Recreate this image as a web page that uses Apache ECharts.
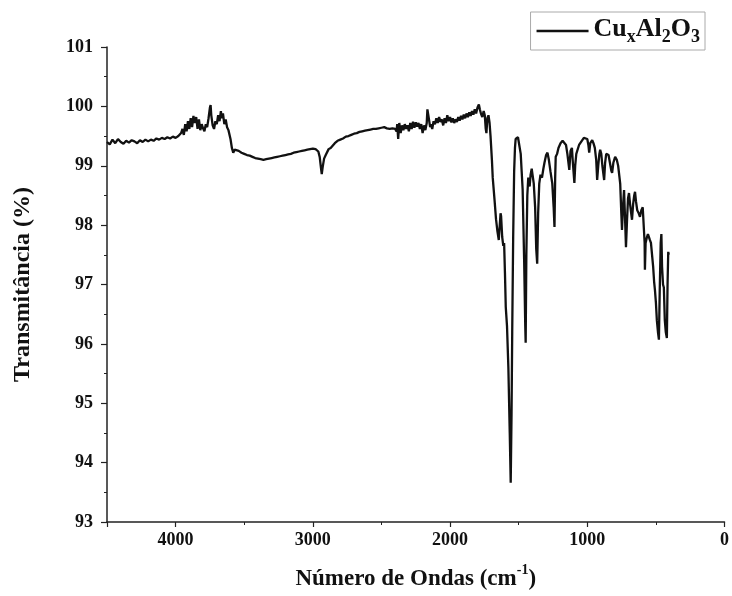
<!DOCTYPE html>
<html>
<head>
<meta charset="utf-8">
<script src="https://cdn.jsdelivr.net/npm/echarts@6/dist/echarts.min.js"></script>
<style>html,body{margin:0;padding:0;background:#fff;}#c{width:732px;height:596px;}</style>
</head>
<body>
<div id="c"></div>
<script>
// Wavenumber (cm^-1) and transmittance (%)
const wavenumber = [
4500,4480,4460,4440,4420,4400,4380,4360,4340,4320,4300,4280,4260,4240,4220,4200,4180,4160,4140,4120,4100,4080,4060,4040,4020,4000,3980,
3960,3950,3940,3930,3920,3910,3900,3890,3880,3870,3862,3850,3840,3830,3820,3810,3800,3790,3780,3770,3760,3750,3745,3740,3730,3720,3710,3700,3690,3680,3670,3665,3655,3645,3635,3625,3615,3600,3590,3580,3570,3560,
3540,3520,3500,3480,3460,3440,3420,3400,3380,3360,3340,3320,3300,3280,3260,3240,3220,3200,3180,3160,3140,3120,3100,3080,3060,3040,3020,3000,2980,2960,2950,2940,2935,2928,2918,2906,2895,2885,2870,2860,2840,2820,2800,2780,2760,2740,2720,2700,2680,2660,2640,2620,2600,2580,2560,2540,2520,2500,2480,2460,2440,2420,2400,2390,
2385,2378,2370,2360,2350,2340,2330,2320,2310,2300,2290,2280,2270,2260,2250,2240,2230,2220,2210,2200,2190,2180,2170,2165,2160,2155,2145,2138,2130,2120,2110,2100,2090,2080,2070,2060,2050,2040,2030,2020,2010,2000,1990,1980,1970,1960,1950,1940,1930,1920,1910,1900,1890,1880,1870,1860,1850,1840,1830,1820,1810,1800,1790,1783,1775,1765,1755,1747,1740,1735,1728,1720,1712,1705,1695,1689,
1675,1665,1655,1645,1638,1632,1628,1620,1612,1606,1600,1594,1585,1575,1565,1558,1552,1547,1540,1533,1527,1522,1515,1505,1493,1485,1478,1471,1460,1452,1449,1444,1437,1430,1420,1413,1405,1399,1390,1380,1372,1365,1358,1350,1341,1330,1320,1312,1300,1290,1280,1268,1255,1245,1239,1234,1230,1220,1210,1195,1180,
1167,1155,1145,1131,1122,1112,1105,1094,1088,1080,1073,1060,1040,1025,1015,1000,992,986,978,964,955,945,935,928,920,912,906,898,890,877,870,862,855,845,835,825,819,810,797,785,775,768,760,752,747,740,732,726,718,710,703,696,688,680,674,666,658,652,645,636,625,616,606,596,587,582,580,575,565,558,551,544,536,529,520,513,507,500,493,485,478,472,465,460,455,448,442,435,428,420,415,410,406
];
const transmittance = [
99.40,99.36,99.44,99.38,99.45,99.40,99.37,99.42,99.39,99.43,99.41,99.38,99.43,99.40,99.44,99.41,99.44,99.42,99.46,99.44,99.47,99.45,99.48,99.46,99.49,99.47,99.50,
99.55,99.62,99.52,99.70,99.58,99.75,99.62,99.80,99.65,99.84,99.72,99.82,99.62,99.78,99.60,99.70,99.63,99.58,99.70,99.65,99.80,99.98,100.02,99.85,99.68,99.62,99.75,99.70,99.85,99.75,99.92,99.80,99.88,99.70,99.78,99.65,99.60,99.45,99.30,99.22,99.27,99.24,
99.25,99.22,99.20,99.18,99.17,99.15,99.13,99.12,99.11,99.10,99.11,99.12,99.13,99.14,99.15,99.16,99.17,99.18,99.19,99.20,99.22,99.23,99.24,99.25,99.26,99.27,99.28,99.29,99.28,99.24,99.15,98.95,98.86,98.98,99.12,99.18,99.20,99.28,99.30,99.33,99.38,99.42,99.44,99.46,99.49,99.50,99.52,99.54,99.55,99.57,99.58,99.59,99.60,99.61,99.62,99.62,99.63,99.64,99.65,99.63,99.62,99.63,99.62,99.58,
99.70,99.45,99.72,99.55,99.68,99.60,99.70,99.62,99.68,99.58,99.72,99.62,99.74,99.64,99.73,99.66,99.72,99.62,99.70,99.55,99.68,99.60,99.72,99.95,99.98,99.80,99.65,99.70,99.62,99.75,99.70,99.80,99.72,99.82,99.74,99.78,99.68,99.80,99.72,99.85,99.75,99.82,99.73,99.80,99.72,99.78,99.74,99.82,99.76,99.84,99.78,99.86,99.80,99.88,99.82,99.90,99.84,99.92,99.86,99.95,99.88,99.98,100.03,99.95,99.88,99.82,99.92,99.85,99.62,99.55,99.80,99.85,99.72,99.50,99.10,98.80,
98.40,98.10,97.90,97.75,97.72,98.20,98.15,97.80,97.65,97.70,97.20,96.62,96.30,95.60,94.50,93.66,94.80,96.20,97.80,98.90,99.30,99.45,99.42,99.48,99.45,99.20,98.90,98.60,97.40,96.30,96.02,97.50,98.50,98.80,98.65,98.85,98.95,98.85,98.70,98.30,97.60,97.35,98.20,98.70,98.85,98.80,98.95,99.05,99.18,99.22,99.10,98.90,98.70,98.30,97.97,98.80,99.15,99.20,99.30,99.38,99.42,
99.45,99.35,99.20,98.93,99.25,99.30,99.05,98.71,99.00,99.20,99.22,99.35,99.42,99.47,99.48,99.45,99.35,99.22,99.38,99.43,99.38,99.30,99.10,98.76,99.00,99.20,99.27,99.20,99.00,98.76,99.05,99.20,99.23,99.18,99.05,98.92,98.88,99.05,99.15,99.10,99.00,98.98,98.70,98.20,97.92,98.30,98.59,98.20,97.63,98.10,98.45,98.54,98.35,98.20,98.09,98.35,98.50,98.56,98.40,98.25,98.20,98.14,98.25,98.30,98.31,97.70,97.25,97.70,97.80,97.85,97.87,97.75,97.70,97.70,97.30,97.05,96.91,96.70,96.40,96.20,96.07,96.90,97.70,97.85,97.30,97.00,96.95,96.40,96.20,96.10,97.00,97.55,97.50
];
const xTicks = [0, 1000, 2000, 3000, 4000];
const yTicks = [93, 94, 95, 96, 97, 98, 99, 100, 101];
const seriesName = 'CuxAl2O3';

const points = wavenumber.map((w, i) => [w, transmittance[i]]);
const FONT = 'Liberation Serif';

const chart = echarts.init(document.getElementById('c'), null, {renderer: 'canvas'});
chart.setOption({
  backgroundColor: '#fff',
  animation: false,
  grid: {left: 107, right: 4, top: 47, bottom: 74, containLabel: false},
  legend: {
    right: 27, top: 12,
    icon: 'rect',
    itemWidth: 52, itemHeight: 2.5, itemGap: 4,
    padding: [4, 5, 4, 6],
    borderColor: '#aaa', borderWidth: 1,
    data: [seriesName],
    formatter: () => '{a|Cu}{s|x}{a|Al}{s|2}{a|O}{s|3}',
    textStyle: {
      fontFamily: FONT, fontWeight: 'bold', color: '#111', padding: [0, 0, 0, 0],
      rich: {
        a: {fontFamily: FONT, fontWeight: 'bold', fontSize: 26, color: '#111', lineHeight: 30, verticalAlign: 'top'},
        s: {fontFamily: FONT, fontWeight: 'bold', fontSize: 18, color: '#111', lineHeight: 30, verticalAlign: 'bottom', padding: [10, 0, 0, 0]}
      }
    }
  },
  xAxis: {
    type: 'value', min: 0, max: 4500, interval: 1000, inverse: true,
    name: '{a|Número de Ondas (cm}{s|-1}{a|)}',
    nameLocation: 'middle', nameGap: 41,
    nameTextStyle: {
      rich: {
        a: {fontFamily: FONT, fontWeight: 'bold', fontSize: 23, color: '#111', lineHeight: 28, verticalAlign: 'bottom'},
        s: {fontFamily: FONT, fontWeight: 'bold', fontSize: 14, color: '#111', lineHeight: 28, verticalAlign: 'top'}
      }
    },
    axisLine: {show: true, onZero: false, lineStyle: {color: '#222', width: 1.5}},
    axisTick: {show: true, length: 5, lineStyle: {color: '#222', width: 1.2}},
    minorTick: {show: true, splitNumber: 2, length: 3, lineStyle: {color: '#222', width: 1}},
    axisLabel: {
      fontFamily: FONT, fontWeight: 'bold', fontSize: 18, color: '#111', margin: 9,
      showMaxLabel: false,
      formatter: v => (xTicks.indexOf(v) >= 0 ? String(v) : '')
    },
    splitLine: {show: false}
  },
  yAxis: {
    type: 'value', min: 93, max: 101, interval: 1,
    name: 'Transmitância (%)',
    nameLocation: 'middle', nameGap: 72,
    nameTextStyle: {fontFamily: FONT, fontWeight: 'bold', fontSize: 24, color: '#111'},
    axisLine: {show: true, onZero: false, lineStyle: {color: '#222', width: 1.5}},
    axisTick: {show: true, length: 6, lineStyle: {color: '#222', width: 1.2}},
    minorTick: {show: true, splitNumber: 2, length: 3, lineStyle: {color: '#222', width: 1}},
    axisLabel: {
      fontFamily: FONT, fontWeight: 'bold', fontSize: 18, color: '#111', margin: 14,
      formatter: v => (yTicks.indexOf(v) >= 0 ? String(v) : '')
    },
    splitLine: {show: false}
  },
  series: [{
    name: seriesName,
    type: 'line',
    data: points,
    showSymbol: false,
    symbol: 'none',
    sampling: false,
    color: '#111',
    lineStyle: {color: '#111', width: 2.3},
    z: 3
  }]
});
</script>
</body>
</html>
